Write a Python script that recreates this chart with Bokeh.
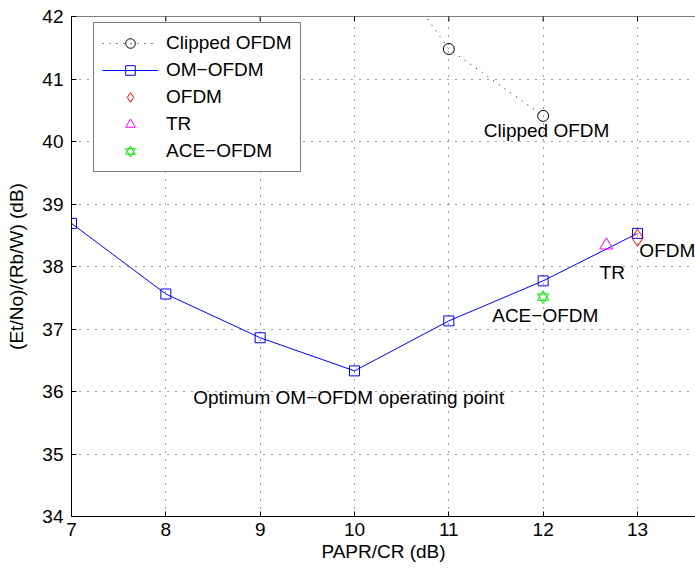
from bokeh.plotting import figure
from bokeh.models import (ColumnDataSource, Legend, LegendItem,
                          FixedTicker, Range1d, Span)
from bokeh.embed import file_html
from bokeh.resources import INLINE

# ---- data ----
om_x = [7, 8, 9, 10, 11, 12, 13]
om_y = [38.69, 37.56, 36.86, 36.33, 37.13, 37.77, 38.53]

clip_x = [10, 11, 12]
clip_y = [43.6, 41.48, 40.41]

ofdm_x = [13.0]
ofdm_y = [38.46]

tr_x = [12.67]
tr_y = [38.34]

ace_x = [12.0]
ace_y = [37.51]

x_ticks = [7, 8, 9, 10, 11, 12, 13]
y_ticks = [34, 35, 36, 37, 38, 39, 40, 41, 42]
x_lo, x_hi = 7, 13.615
y_lo, y_hi = 34, 42

ann_text = ["Clipped OFDM", "OFDM", "TR", "ACE\u2212OFDM",
            "Optimum OM\u2212OFDM operating point"]
ann_x = [11.37, 13.02, 12.60, 11.46, 8.29]
ann_y = [40.18, 38.26, 37.90, 37.22, 35.90]

FONT = "Liberation Sans"
FS = "19px"

p = figure(width=695, height=568, output_backend="svg", toolbar_location=None,
           x_range=Range1d(x_lo, x_hi), y_range=Range1d(y_lo, y_hi),
           min_border_left=71, min_border_top=16, min_border_bottom=52,
           min_border_right=0)
p.outline_line_color = None
p.background_fill_color = "white"
p.border_fill_color = "white"

for ax in (p.xaxis[0], p.yaxis[0]):
    ax.major_tick_in = 5
    ax.major_tick_out = 0
    ax.minor_tick_line_color = None
    ax.major_label_text_font = FONT
    ax.major_label_text_font_size = FS
    ax.major_label_text_color = "black"
    ax.axis_label_text_font = FONT
    ax.axis_label_text_font_size = FS
    ax.axis_label_text_font_style = "normal"
    ax.axis_label_text_color = "black"
    ax.axis_line_color = "black"
    ax.major_tick_line_color = "black"

p.xaxis[0].ticker = FixedTicker(ticks=x_ticks)
p.yaxis[0].ticker = FixedTicker(ticks=y_ticks)
p.xaxis[0].axis_label = "PAPR/CR (dB)"
p.yaxis[0].axis_label = "(Et/No)/(Rb/W) (dB)"
p.xaxis[0].major_label_standoff = 6
p.xaxis[0].axis_label_standoff = 2
p.yaxis[0].major_label_standoff = 8
p.yaxis[0].axis_label_standoff = 12

# top box edge and its inward ticks
p.add_layout(Span(location=y_hi, dimension="width", line_color="black",
                  line_width=1))
p.scatter(x_ticks, [y_hi] * len(x_ticks), marker="dash", angle=1.5708,
          size=10, line_color="black", line_width=1)

p.xgrid.ticker = FixedTicker(ticks=x_ticks)
p.ygrid.ticker = FixedTicker(ticks=y_ticks)
for g in (p.xgrid, p.ygrid):
    g.grid_line_color = "#000000"
    g.grid_line_alpha = 0.75
    g.grid_line_dash = "1 7"
    g.grid_line_width = 1

# Clipped OFDM
cl = p.line(clip_x, clip_y, line_color="black", line_dash="1 6", line_width=1)
cm = p.scatter(clip_x, clip_y, marker="circle", size=11, fill_color=None,
               line_color="black", line_width=1)
# OM-OFDM
ol = p.line(om_x, om_y, line_color="#0000ff", line_width=1)
om = p.scatter(om_x, om_y, marker="square", size=10, fill_color=None,
               line_color="#0000ff", line_width=1)
# OFDM
od = p.scatter(ofdm_x, ofdm_y, marker="diamond", size=17, fill_color=None,
               line_color="#ff0000", line_width=1)
# TR
tr = p.scatter(tr_x, tr_y, marker="triangle", size=13, fill_color=None,
               line_color="#ff00ff", line_width=1)
# ACE-OFDM (hexagram from two triangles)
a1 = p.scatter(ace_x, ace_y, marker="triangle", size=11, fill_color=None,
               line_color="#00ee00", line_width=1)
a2 = p.scatter(ace_x, ace_y, marker="inverted_triangle", size=11,
               fill_color=None, line_color="#00ee00", line_width=1)

ann = ColumnDataSource(dict(x=ann_x, y=ann_y, t=ann_text))
p.text(x="x", y="y", text="t", source=ann, text_font={"value": FONT},
       text_font_size={"value": FS}, text_color="black",
       text_baseline="middle", text_align="left")

legend = Legend(items=[
    LegendItem(label="Clipped OFDM", renderers=[cl, cm]),
    LegendItem(label="OM\u2212OFDM", renderers=[ol, om]),
    LegendItem(label="OFDM", renderers=[od]),
    LegendItem(label="TR", renderers=[tr]),
    LegendItem(label="ACE\u2212OFDM", renderers=[a1, a2]),
], location=(22, 344))
legend.label_text_font = FONT
legend.label_text_font_size = FS
legend.label_text_color = "black"
legend.border_line_color = "black"
legend.border_line_width = 1
legend.background_fill_color = "white"
legend.background_fill_alpha = 1
legend.padding = 8
legend.spacing = 3
legend.glyph_width = 56
legend.glyph_height = 24
legend.label_height = 24
legend.label_standoff = 8
legend.margin = 0
p.add_layout(legend, "center")

open("out.html", "w").write(file_html(p, INLINE))
